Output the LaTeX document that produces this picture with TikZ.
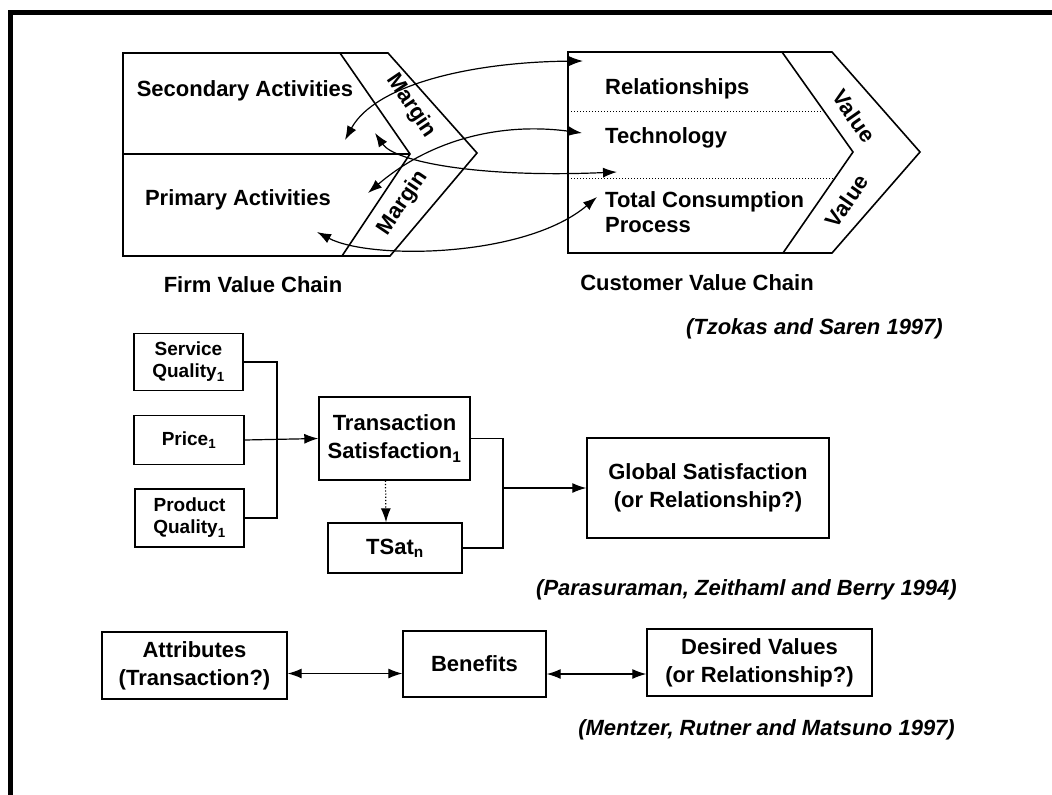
\documentclass[tikz,border=0pt]{standalone}
\usepackage{fontspec}
\setmainfont{Liberation Sans}
\usetikzlibrary{arrows.meta}

\begin{document}
\begin{tikzpicture}[x=1pt, y=-1pt,
    >={Latex[length=14pt,width=10pt]},
    txt/.style={font=\fontsize{22}{25}\selectfont\bfseries, inner sep=0pt},
    cite/.style={font=\fontsize{22}{25}\selectfont\bfseries\itshape, inner sep=0pt, anchor=east},
    box/.style={draw, line width=1.4pt, align=center, inner sep=0pt, font=\fontsize{22}{28}\selectfont\bfseries},
    smallbox/.style={box, font=\fontsize{19}{22}\selectfont\bfseries},
    chain/.style={line width=1.6pt, line join=miter},
    link/.style={<->, line width=1.2pt}]
    \useasboundingbox (0,0) rectangle (1052,795);

    % Frame (only top and left edges show)
    \draw[line width=5pt] (10,795) -- (10,12) -- (1052,12);

    % Firm value chain
    \draw[chain] (123,53) -- (388,53) -- (477,153) -- (390,256) -- (123,256) -- cycle;
    \draw[chain] (340,53) -- (410,154) -- (342,256);
    \draw[chain] (123,154) -- (410,154);
    \node[txt] (sec) at (245,91) {Secondary Activities};
    \node[txt] (prim) at (238,200) {Primary Activities};
    \node[txt, rotate=-56] (margtop) at (411,106) {Margin};
    \node[txt, rotate=56] (margbot) at (403,203) {Margin};
    \node[txt] (firm) at (253,285) {Firm Value Chain};

    % Customer value chain
    \draw[chain] (568,52) -- (832,52) -- (920,152) -- (832,253) -- (568,253) -- cycle;
    \draw[chain] (782,52) -- (853,152) -- (783,253);
    \draw[dotted, line width=1pt] (568,111) -- (823,111);
    \draw[dotted, line width=1pt] (568,178) -- (835,178);
    \node[txt, anchor=west] (rel) at (605,89) {Relationships};
    \node[txt, anchor=west] (tech) at (605,138) {Technology};
    \node[txt, anchor=west, align=left] (tcp) at (605,212) {Total Consumption\\Process};
    \node[txt, rotate=-55] (valtop) at (854,116) {Value};
    \node[txt, rotate=55] (valbot) at (847,201) {Value};
    \node[txt] (cust) at (697,283) {Customer Value Chain};

    % Links between the chains
    \coordinate (sa) at (345,140); \coordinate (ra) at (583,61);
    \coordinate (sb) at (375,133); \coordinate (tb) at (617,172);
    \coordinate (pc) at (368,193); \coordinate (tc) at (582,133);
    \coordinate (pd) at (317,232); \coordinate (td) at (597,197);
    \draw[link] (sa) .. controls (375,85) and (470,62) .. (ra);
    \draw[link] (sb) .. controls (395,162) and (480,178) .. (tb);
    \draw[link] (pc) .. controls (430,140) and (500,122) .. (tc);
    \draw[link] (pd) .. controls (370,260) and (525,258) .. (td);

    \node[cite] (tzokas) at (943,329) {(Tzokas and Saren 1997)};

    % Satisfaction model
    \node[smallbox, minimum width=109pt, minimum height=57pt] (sq) at (188.5,362) {Service\\Quality\textsubscript{1}};
    \node[smallbox, minimum width=110pt, minimum height=49pt] (price) at (189,440) {Price\textsubscript{1}};
    \node[smallbox, minimum width=109pt, minimum height=58pt] (pq) at (189.5,518) {Product\\Quality\textsubscript{1}};
    \node[box, minimum width=151pt, minimum height=83pt] (trans) at (394.5,438.5) {Transaction\\Satisfaction\textsubscript{1}};
    \node[box, minimum width=134pt, minimum height=50pt] (tsat) at (395,548) {TSat\textsubscript{n}};
    \node[box, minimum width=242pt, minimum height=100pt] (global) at (708,488) {Global Satisfaction\\(or Relationship?)};
    \coordinate (bus) at (277,440);
    \coordinate (join) at (503,488);
    \draw[line width=1.2pt] (sq.east) -- (sq.east -| bus) -- (pq.east -| bus) -- (pq.east);
    \draw[->, line width=1.2pt] (price.east) -- (trans.west);
    \draw[->, dotted, line width=1.2pt] ([xshift=-9pt]trans.south) -- ([xshift=-9pt]tsat.north);
    \draw[line width=1.2pt] (trans.east) -| (join) |- (tsat.east);
    \draw[->, line width=1.2pt] (join) -- (global.west);

    \node[cite] (parasu) at (957,590) {(Parasuraman, Zeithaml and Berry 1994)};

    % Means-end chain
    \node[box, minimum width=185pt, minimum height=67pt] (attr) at (194.5,665.5) {Attributes\\(Transaction?)};
    \node[box, minimum width=143pt, minimum height=66pt] (benef) at (474.5,664) {Benefits};
    \node[box, minimum width=225pt, minimum height=67pt] (desired) at (759.5,662.5) {Desired Values\\(or Relationship?)};
    \draw[link] ([yshift=-8pt]attr.east) -- ([yshift=-8pt]attr.east -| benef.west);
    \draw[link] ([yshift=-10pt]benef.east) -- ([yshift=-10pt]benef.east -| desired.west);

    \node[cite] (mentzer) at (955,730) {(Mentzer, Rutner and Matsuno 1997)};
\end{tikzpicture}
\end{document}
